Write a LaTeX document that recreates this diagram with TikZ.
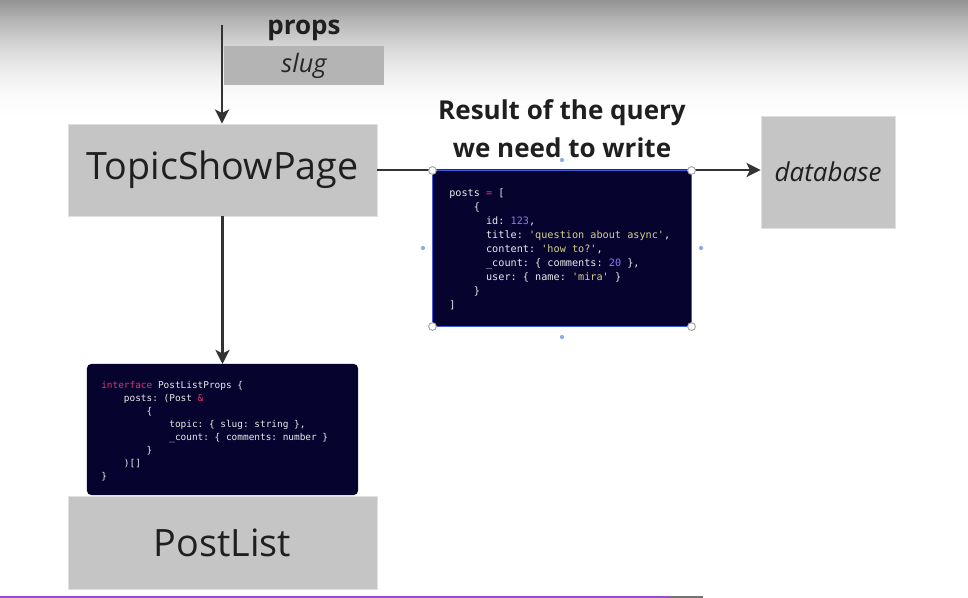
\documentclass[tikz,border=0pt]{standalone}
\usepackage{fontspec}
\setmainfont{Open Sans}
\setmonofont{DejaVu Sans Mono}
\usetikzlibrary{arrows.meta,positioning}
\definecolor{boxgray}{HTML}{C5C5C5}
\definecolor{sluggray}{HTML}{B4B4B4}
\definecolor{codebg}{HTML}{06032F}
\definecolor{arrowgray}{HTML}{333333}
\definecolor{kwpink}{HTML}{E3336F}
\definecolor{numpurple}{HTML}{8A7CF2}
\definecolor{strbeige}{HTML}{D8D28C}
\definecolor{selblue}{HTML}{3F5BD8}
\definecolor{handleblue}{HTML}{8FAAE8}
\definecolor{barpurple}{HTML}{9A4CD0}
\newcommand{\codekw}[1]{\textcolor{kwpink}{#1}}
\newcommand{\codenum}[1]{\textcolor{numpurple}{#1}}
\newcommand{\codestr}[1]{\textcolor{strbeige}{#1}}

\begin{document}
\begin{tikzpicture}[
    x=0.025cm, y=-0.025cm,
    box/.style={fill=boxgray, draw=black!12, line width=0.6pt, inner sep=0pt, text=black!88},
    codebox/.style={fill=codebg, inner sep=0pt},
    codetext/.style={anchor=west, inner sep=0pt, align=left, text=white!92!black, font=\ttfamily},
    arr/.style={draw=arrowgray, line width=1.8pt, -{Stealth[length=10pt,width=10pt,inset=2.5pt]}},
    handle/.style={circle, draw=black!35, fill=white, line width=0.7pt, minimum size=5.5pt, inner sep=0pt},
    dot/.style={circle, fill=handleblue, minimum size=3pt, inner sep=0pt}
]
\useasboundingbox (0,0) rectangle (968,598);
% screen shading at the top
\foreach \i in {0,...,59} {
    \pgfmathsetmacro\shadeval{42*(1-\i/60)^2}
    \fill[black!\shadeval] (0,2*\i) rectangle (968,2*\i+2.3);
}
\fill[barpurple] (0,596) rectangle (670,598);
\fill[black!55] (670,596) rectangle (703,598);

% props
\node[font=\fontsize{18.5}{22}\selectfont\bfseries, text=black!88] (props) at (304,30) {props};
\node[fill=sluggray, minimum width=4cm, minimum height=0.975cm, inner sep=0pt, text=black!85,
      font=\fontsize{18}{22}\selectfont\itshape] (slug) at (304,65.5) {slug};
\coordinate (entry) at (222,25);

% pages
\node[box, minimum width=7.725cm, minimum height=2.3cm, font=\fontsize{26.8}{31}\selectfont] (topic) at (222.5,170) {TopicShowPage};
\node[box, minimum width=7.725cm, minimum height=2.325cm, font=\fontsize{26.8}{31}\selectfont] (postlist) at (222.5,542.5) {PostList};
\node[box, minimum width=3.35cm, minimum height=2.8cm, font=\fontsize{18.5}{22}\selectfont\itshape] (db) at (828,172) {database};

\node[font=\fontsize{18.5}{27}\selectfont\bfseries, align=center, text=black!88] (result) at (562,129)
    {Result of the query\\we need to write};

\draw[arr] (entry) -- (topic.north -| entry);
\draw[arr] (topic.east) -- (topic.east -| db.west);
\draw[arr] (topic.south) -- (222.5,364);

% query result
\node[codebox, draw=selblue, line width=0.7pt, minimum width=6.45cm, minimum height=3.875cm] (query) at (562,248.5) {};
\node[codetext, font=\ttfamily\fontsize{7.25}{9.96}\selectfont] (querycode) at (449,249) {%
posts \codekw{=} [\\
~~~~\{\\
~~~~~~id: \codenum{123},\\
~~~~~~title: \codestr{'question about async'},\\
~~~~~~content: \codestr{'how to?'},\\
~~~~~~\_count: \{ comments: \codenum{20} \},\\
~~~~~~user: \{ name: \codestr{'mira'} \}\\
~~~~\}\\
]};
\foreach \c in {north west, north east, south west, south east}
    \node[handle] at (query.\c) {};
\node[dot] at (562,160) {};
\node[dot] at (562,337) {};
\node[dot] at (423,248) {};
\node[dot] at (701,248) {};

% props interface
\node[codebox, rounded corners=3pt, minimum width=6.775cm, minimum height=3.275cm] (props code) at (222.5,429.5) {};
\node[codetext, font=\ttfamily\fontsize{6.7}{9.25}\selectfont] (ifacecode) at (101,431) {%
\codekw{interface} PostListProps \{\\
~~~~posts: (Post \codekw{\&}\\
~~~~~~~~\{\\
~~~~~~~~~~~~topic: \{ slug: string \},\\
~~~~~~~~~~~~\_count: \{ comments: number \}\\
~~~~~~~~\}\\
~~~~)[]\\
\}};
\end{tikzpicture}
\end{document}
